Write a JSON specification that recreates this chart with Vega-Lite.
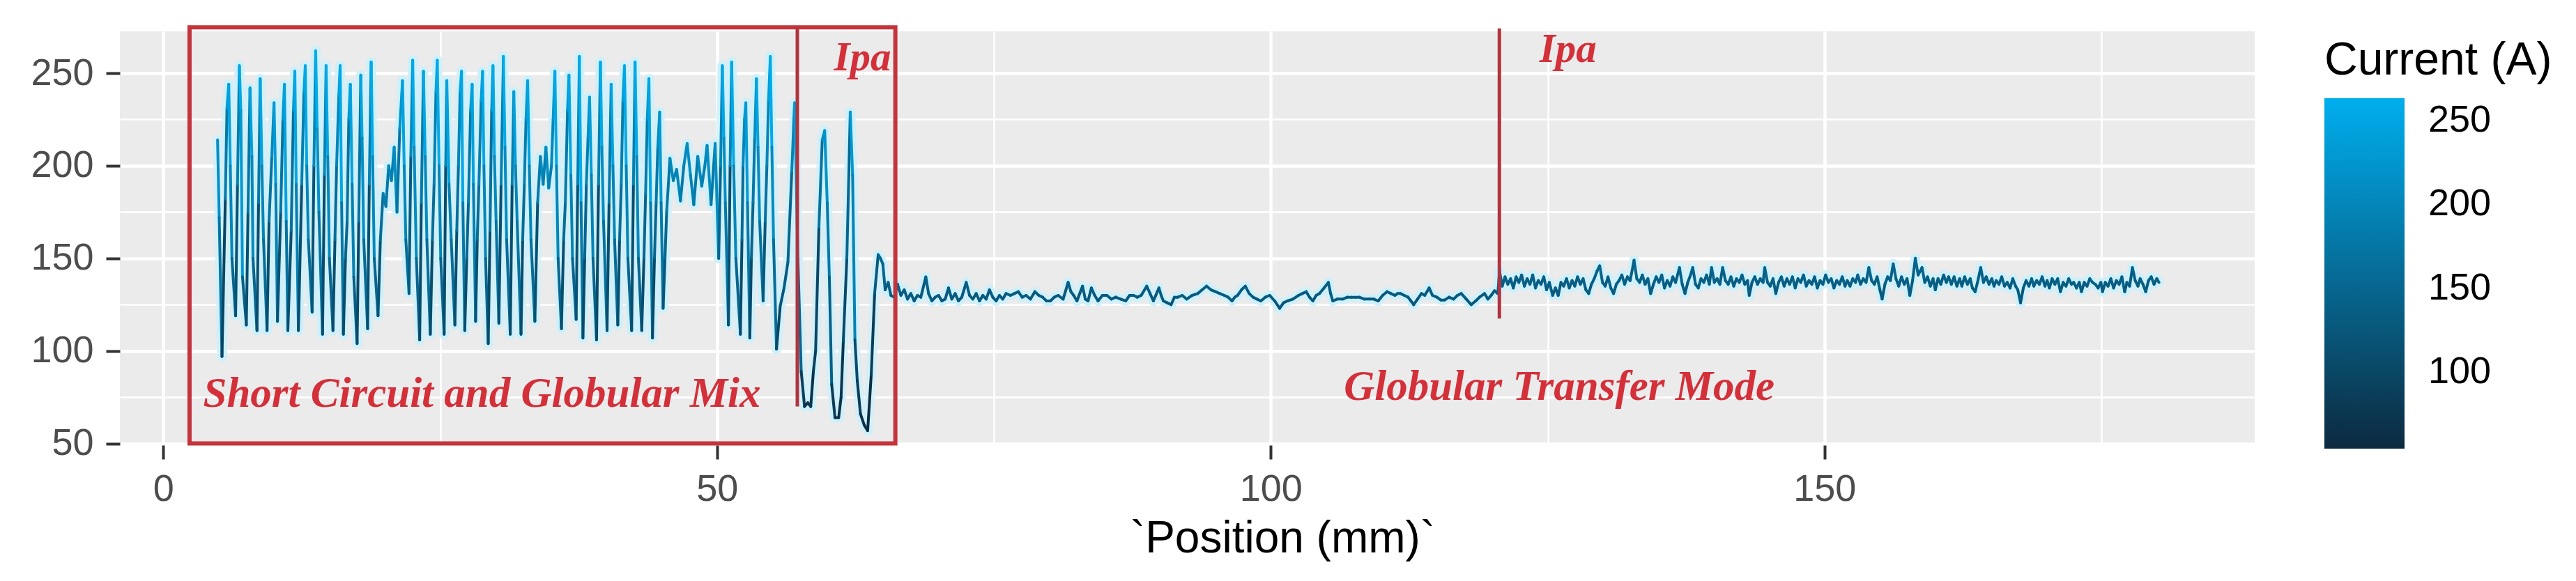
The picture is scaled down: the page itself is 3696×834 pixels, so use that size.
{
  "$schema": "https://vega.github.io/schema/vega-lite/v6.json",
  "autosize": {"type": "none"},
  "width": 3063,
  "height": 594,
  "padding": {"left": 172, "top": 45, "right": 461, "bottom": 195},
  "background": "white",
  "config": {
    "view": {"fill": "#EBEBEB", "stroke": null},
    "axis": {"domain": false, "labelFont": "Liberation Sans", "titleFont": "Liberation Sans"}
  },
  "datasets": {
    "current": [
      {"p":4.9,"c":214},{"p":5.05,"c":172},{"p":5.3,"c":97},{"p":5.6,"c":182},{"p":5.75,"c":231},{"p":5.91,"c":244},{"p":6.05,"c":200},{"p":6.2,"c":150},{"p":6.53,"c":119},{"p":6.7,"c":190},{"p":6.87,"c":254},{"p":7.0,"c":230},{"p":7.15,"c":140},{"p":7.5,"c":114},{"p":7.65,"c":175},{"p":7.83,"c":242},{"p":8.0,"c":205},{"p":8.1,"c":150},{"p":8.46,"c":111},{"p":8.6,"c":180},{"p":8.75,"c":247},{"p":8.9,"c":200},{"p":9.05,"c":160},{"p":9.37,"c":111},{"p":9.55,"c":170},{"p":9.8,"c":205},{"p":10.0,"c":234},{"p":10.15,"c":190},{"p":10.31,"c":116},{"p":10.6,"c":175},{"p":10.8,"c":225},{"p":10.94,"c":244},{"p":11.1,"c":170},{"p":11.25,"c":111},{"p":11.55,"c":165},{"p":11.75,"c":230},{"p":11.88,"c":251},{"p":12.0,"c":190},{"p":12.2,"c":111},{"p":12.5,"c":190},{"p":12.7,"c":240},{"p":12.82,"c":254},{"p":12.95,"c":200},{"p":13.1,"c":160},{"p":13.44,"c":121},{"p":13.6,"c":200},{"p":13.76,"c":262},{"p":13.9,"c":220},{"p":14.05,"c":175},{"p":14.38,"c":109},{"p":14.55,"c":195},{"p":14.7,"c":254},{"p":14.85,"c":205},{"p":15.0,"c":150},{"p":15.32,"c":111},{"p":15.5,"c":160},{"p":15.65,"c":200},{"p":15.85,"c":238},{"p":15.97,"c":254},{"p":16.1,"c":180},{"p":16.26,"c":109},{"p":16.45,"c":150},{"p":16.6,"c":170},{"p":16.75,"c":225},{"p":16.89,"c":244},{"p":17.05,"c":190},{"p":17.2,"c":140},{"p":17.5,"c":104},{"p":17.65,"c":170},{"p":17.83,"c":249},{"p":17.95,"c":215},{"p":18.1,"c":160},{"p":18.45,"c":112},{"p":18.6,"c":190},{"p":18.77,"c":256},{"p":18.9,"c":205},{"p":19.05,"c":150},{"p":19.39,"c":119},{"p":19.6,"c":160},{"p":19.85,"c":185},{"p":20.1,"c":178},{"p":20.35,"c":200},{"p":20.6,"c":192},{"p":20.85,"c":210},{"p":21.1,"c":175},{"p":21.35,"c":220},{"p":21.6,"c":246},{"p":21.75,"c":200},{"p":21.9,"c":160},{"p":22.19,"c":131},{"p":22.35,"c":205},{"p":22.52,"c":257},{"p":22.65,"c":210},{"p":22.85,"c":150},{"p":23.15,"c":106},{"p":23.3,"c":180},{"p":23.49,"c":251},{"p":23.65,"c":205},{"p":23.8,"c":160},{"p":24.11,"c":109},{"p":24.3,"c":160},{"p":24.45,"c":190},{"p":24.62,"c":240},{"p":24.74,"c":257},{"p":24.9,"c":200},{"p":25.05,"c":150},{"p":25.36,"c":109},{"p":25.5,"c":200},{"p":25.6,"c":246},{"p":25.8,"c":190},{"p":26.0,"c":160},{"p":26.33,"c":114},{"p":26.5,"c":165},{"p":26.65,"c":200},{"p":26.8,"c":240},{"p":26.93,"c":251},{"p":27.05,"c":180},{"p":27.22,"c":111},{"p":27.4,"c":150},{"p":27.55,"c":180},{"p":27.75,"c":230},{"p":27.89,"c":244},{"p":28.0,"c":190},{"p":28.2,"c":116},{"p":28.35,"c":160},{"p":28.5,"c":190},{"p":28.7,"c":235},{"p":28.83,"c":251},{"p":28.95,"c":200},{"p":29.1,"c":150},{"p":29.34,"c":104},{"p":29.5,"c":165},{"p":29.65,"c":230},{"p":29.77,"c":254},{"p":29.9,"c":205},{"p":30.05,"c":170},{"p":30.3,"c":115},{"p":30.5,"c":190},{"p":30.71,"c":259},{"p":30.85,"c":210},{"p":31.0,"c":160},{"p":31.33,"c":109},{"p":31.5,"c":190},{"p":31.65,"c":240},{"p":31.8,"c":200},{"p":31.95,"c":170},{"p":32.3,"c":109},{"p":32.45,"c":160},{"p":32.6,"c":190},{"p":32.75,"c":225},{"p":32.9,"c":246},{"p":33.05,"c":200},{"p":33.2,"c":160},{"p":33.55,"c":116},{"p":33.8,"c":180},{"p":34.05,"c":205},{"p":34.3,"c":190},{"p":34.55,"c":210},{"p":34.8,"c":188},{"p":35.05,"c":200},{"p":35.2,"c":225},{"p":35.36,"c":251},{"p":35.5,"c":200},{"p":35.65,"c":150},{"p":35.95,"c":112},{"p":36.15,"c":160},{"p":36.3,"c":180},{"p":36.5,"c":230},{"p":36.63,"c":249},{"p":36.8,"c":195},{"p":36.95,"c":150},{"p":37.28,"c":117},{"p":37.42,"c":190},{"p":37.57,"c":259},{"p":37.72,"c":180},{"p":37.89,"c":107},{"p":38.05,"c":150},{"p":38.2,"c":190},{"p":38.35,"c":215},{"p":38.49,"c":237},{"p":38.65,"c":195},{"p":38.8,"c":150},{"p":39.12,"c":106},{"p":39.3,"c":190},{"p":39.47,"c":256},{"p":39.6,"c":210},{"p":39.75,"c":170},{"p":40.07,"c":111},{"p":40.25,"c":180},{"p":40.44,"c":244},{"p":40.6,"c":200},{"p":40.75,"c":160},{"p":41.04,"c":114},{"p":41.2,"c":160},{"p":41.35,"c":190},{"p":41.5,"c":235},{"p":41.64,"c":254},{"p":41.8,"c":200},{"p":41.95,"c":150},{"p":42.29,"c":111},{"p":42.45,"c":190},{"p":42.6,"c":256},{"p":42.75,"c":205},{"p":42.9,"c":150},{"p":43.2,"c":111},{"p":43.4,"c":150},{"p":43.55,"c":185},{"p":43.7,"c":225},{"p":43.85,"c":247},{"p":44.0,"c":180},{"p":44.17,"c":107},{"p":44.35,"c":150},{"p":44.5,"c":180},{"p":44.65,"c":210},{"p":44.82,"c":229},{"p":44.95,"c":180},{"p":45.13,"c":123},{"p":45.3,"c":150},{"p":45.45,"c":175},{"p":45.75,"c":204},{"p":46.05,"c":192},{"p":46.35,"c":198},{"p":46.7,"c":181},{"p":47.0,"c":200},{"p":47.3,"c":212},{"p":47.6,"c":195},{"p":47.9,"c":179},{"p":48.26,"c":205},{"p":48.62,"c":189},{"p":48.9,"c":200},{"p":49.1,"c":211},{"p":49.46,"c":179},{"p":49.83,"c":212},{"p":50.15,"c":150},{"p":50.32,"c":200},{"p":50.48,"c":254},{"p":50.62,"c":215},{"p":50.75,"c":180},{"p":51.03,"c":114},{"p":51.18,"c":200},{"p":51.32,"c":256},{"p":51.5,"c":200},{"p":51.7,"c":150},{"p":52.11,"c":109},{"p":52.25,"c":160},{"p":52.35,"c":200},{"p":52.48,"c":225},{"p":52.6,"c":234},{"p":52.75,"c":180},{"p":52.96,"c":107},{"p":53.1,"c":150},{"p":53.25,"c":180},{"p":53.4,"c":215},{"p":53.56,"c":247},{"p":53.7,"c":210},{"p":53.85,"c":170},{"p":54.16,"c":127},{"p":54.35,"c":170},{"p":54.5,"c":200},{"p":54.65,"c":235},{"p":54.81,"c":259},{"p":54.95,"c":210},{"p":55.1,"c":160},{"p":55.37,"c":101},{"p":55.7,"c":124},{"p":56.05,"c":134},{"p":56.4,"c":148},{"p":56.75,"c":197},{"p":57.0,"c":234},
      {"p":57.3,"c":150},{"p":57.6,"c":89},{"p":57.9,"c":70},{"p":58.2,"c":72},{"p":58.46,"c":70},{"p":58.7,"c":89},{"p":58.9,"c":100},{"p":59.2,"c":167},{"p":59.5,"c":214},{"p":59.72,"c":219},{"p":59.95,"c":180},{"p":60.14,"c":140},{"p":60.35,"c":82},{"p":60.65,"c":64},{"p":60.98,"c":64},{"p":61.2,"c":75},{"p":61.4,"c":105},{"p":61.72,"c":150},{"p":62.03,"c":229},{"p":62.24,"c":195},{"p":62.45,"c":106},{"p":62.66,"c":84},{"p":62.95,"c":66},{"p":63.29,"c":60},{"p":63.6,"c":57},{"p":63.92,"c":87},{"p":64.23,"c":131},{"p":64.55,"c":152},{"p":64.75,"c":150},{"p":64.97,"c":147},{"p":65.18,"c":133},{"p":65.45,"c":137},{"p":65.7,"c":130},{"p":66.0,"c":129},{"p":66.3,"c":136},
      {"p":66.6,"c":130},{"p":66.9,"c":133},{"p":67.2,"c":128},{"p":67.5,"c":131},{"p":67.8,"c":127},{"p":68.1,"c":130},{"p":68.4,"c":129},{"p":68.85,"c":140},{"p":69.1,"c":131},{"p":69.4,"c":127},{"p":69.7,"c":129},{"p":70.0,"c":130},{"p":70.3,"c":127},{"p":70.6,"c":128},{"p":70.9,"c":134},{"p":71.2,"c":128},{"p":71.5,"c":131},{"p":71.8,"c":127},{"p":72.1,"c":129},{"p":72.5,"c":137},{"p":72.8,"c":130},{"p":73.1,"c":128},{"p":73.4,"c":131},{"p":73.7,"c":127},{"p":74.0,"c":130},{"p":74.3,"c":128},{"p":74.6,"c":133},{"p":74.9,"c":129},{"p":75.2,"c":127},{"p":75.5,"c":130},{"p":75.8,"c":128},{"p":76.1,"c":131},{"p":76.5,"c":130},{"p":76.85,"c":131},{"p":77.2,"c":132},{"p":77.55,"c":129},{"p":77.9,"c":130},{"p":78.3,"c":128},{"p":78.7,"c":132},{"p":79.05,"c":130},{"p":79.4,"c":129},{"p":79.75,"c":127},{"p":80.1,"c":127},{"p":80.45,"c":129},{"p":80.8,"c":130},{"p":81.25,"c":128},{"p":81.7,"c":137},{"p":81.95,"c":132},{"p":82.2,"c":130},{"p":82.5,"c":127},{"p":83.0,"c":135},{"p":83.25,"c":128},{"p":83.5,"c":127},{"p":83.8,"c":134},{"p":84.1,"c":130},{"p":84.4,"c":127},{"p":84.8,"c":130},{"p":85.2,"c":130},{"p":85.6,"c":128},{"p":86.0,"c":129},{"p":86.45,"c":128},{"p":86.9,"c":127},{"p":87.25,"c":130},{"p":87.6,"c":130},{"p":87.95,"c":129},{"p":88.3,"c":130},{"p":88.8,"c":135},{"p":89.1,"c":131},{"p":89.4,"c":127},{"p":89.9,"c":134},{"p":90.1,"c":130},{"p":90.3,"c":127},{"p":90.65,"c":126},{"p":91.0,"c":125},{"p":91.3,"c":129},{"p":91.6,"c":129},{"p":92.0,"c":130},{"p":92.4,"c":128},{"p":92.9,"c":130},{"p":93.4,"c":131},{"p":93.8,"c":133},{"p":94.2,"c":135},{"p":94.6,"c":133},{"p":95.0,"c":132},{"p":95.4,"c":131},{"p":95.8,"c":130},{"p":96.15,"c":129},{"p":96.5,"c":127},{"p":96.75,"c":129},{"p":97.0,"c":130},{"p":97.35,"c":133},{"p":97.7,"c":135},{"p":98.05,"c":131},{"p":98.4,"c":129},{"p":98.75,"c":128},{"p":99.1,"c":127},{"p":99.5,"c":129},{"p":99.9,"c":130},{"p":100.35,"c":127},{"p":100.8,"c":123},{"p":101.15,"c":126},{"p":101.5,"c":127},{"p":102.0,"c":128},{"p":102.5,"c":130},{"p":102.85,"c":131},{"p":103.2,"c":132},{"p":103.5,"c":129},{"p":103.8,"c":127},{"p":104.1,"c":130},{"p":104.4,"c":131},{"p":104.8,"c":134},{"p":105.2,"c":137},{"p":105.4,"c":131},{"p":105.6,"c":127},{"p":106.0,"c":128},{"p":106.5,"c":128},{"p":106.9,"c":129},{"p":107.3,"c":129},{"p":107.65,"c":129},{"p":108.0,"c":129},{"p":108.45,"c":128},{"p":108.9,"c":128},{"p":109.3,"c":128},{"p":109.7,"c":127},{"p":110.1,"c":130},{"p":110.5,"c":132},{"p":110.85,"c":131},{"p":111.2,"c":130},{"p":111.45,"c":131},{"p":111.7,"c":131},{"p":112.05,"c":130},{"p":112.4,"c":129},{"p":112.65,"c":127},{"p":112.9,"c":125},{"p":113.25,"c":128},{"p":113.6,"c":131},{"p":113.9,"c":130},{"p":114.3,"c":134},{"p":114.6,"c":130},{"p":115.0,"c":129},{"p":115.35,"c":127.5},{"p":115.7,"c":127.5},{"p":116.1,"c":129},{"p":116.5,"c":128},{"p":116.85,"c":130},{"p":117.2,"c":131},{"p":117.65,"c":128},{"p":118.1,"c":125},{"p":118.5,"c":127},{"p":118.85,"c":129},{"p":119.3,"c":131},{"p":119.6,"c":128},{"p":119.9,"c":130},{"p":120.2,"c":132.5},{"p":120.5,"c":131},
      {"p":120.65,"c":143},{"p":120.9,"c":135},{"p":121.15,"c":140},{"p":121.4,"c":136},{"p":121.65,"c":139},{"p":121.9,"c":134},{"p":122.15,"c":140},{"p":122.4,"c":137},{"p":122.65,"c":141},{"p":122.9,"c":135},{"p":123.15,"c":139},{"p":123.4,"c":136},{"p":123.65,"c":141},{"p":123.9,"c":134},{"p":124.15,"c":138},{"p":124.4,"c":136},{"p":124.65,"c":140},{"p":124.9,"c":133},{"p":125.15,"c":137},{"p":125.45,"c":130},{"p":125.7,"c":134},{"p":125.95,"c":130},{"p":126.2,"c":137},{"p":126.45,"c":135},{"p":126.7,"c":139},{"p":126.95,"c":134},{"p":127.2,"c":138},{"p":127.45,"c":135},{"p":127.7,"c":140},{"p":127.95,"c":136},{"p":128.2,"c":139},{"p":128.45,"c":133},{"p":128.7,"c":131},{"p":128.95,"c":136},{"p":129.2,"c":139},{"p":129.45,"c":143},{"p":129.7,"c":146},{"p":129.95,"c":137},{"p":130.2,"c":135},{"p":130.45,"c":140},{"p":130.7,"c":134},{"p":130.95,"c":131},{"p":131.2,"c":136},{"p":131.45,"c":138},{"p":131.7,"c":141},{"p":131.95,"c":136},{"p":132.2,"c":140},{"p":132.45,"c":138},{"p":132.8,"c":149},{"p":133.05,"c":139},{"p":133.3,"c":137},{"p":133.55,"c":141},{"p":133.8,"c":136},{"p":134.05,"c":139},{"p":134.3,"c":131},{"p":134.55,"c":136},{"p":134.8,"c":140},{"p":135.05,"c":137},{"p":135.3,"c":141},{"p":135.55,"c":134},{"p":135.8,"c":138},{"p":136.05,"c":135},{"p":136.3,"c":140},{"p":136.55,"c":137},{"p":136.9,"c":145},{"p":137.15,"c":136},{"p":137.4,"c":131},{"p":137.65,"c":137},{"p":137.9,"c":141},{"p":138.1,"c":145},{"p":138.35,"c":136},{"p":138.6,"c":134},{"p":138.85,"c":139},{"p":139.1,"c":137},{"p":139.35,"c":141},{"p":139.6,"c":136},{"p":139.8,"c":145},{"p":140.05,"c":137},{"p":140.3,"c":139},{"p":140.55,"c":136},{"p":140.8,"c":145},{"p":141.05,"c":138},{"p":141.3,"c":136},{"p":141.55,"c":140},{"p":141.8,"c":135},{"p":142.05,"c":139},{"p":142.3,"c":137},{"p":142.55,"c":141},{"p":142.8,"c":136},{"p":143.05,"c":138},{"p":143.2,"c":130},{"p":143.45,"c":137},{"p":143.7,"c":140},{"p":143.95,"c":136},{"p":144.2,"c":139},{"p":144.45,"c":137},{"p":144.6,"c":145},{"p":144.85,"c":137},{"p":145.1,"c":135},{"p":145.35,"c":139},{"p":145.6,"c":131},{"p":145.85,"c":137},{"p":146.1,"c":140},{"p":146.35,"c":135},{"p":146.6,"c":139},{"p":146.85,"c":136},{"p":147.1,"c":140},{"p":147.35,"c":134},{"p":147.6,"c":139},{"p":147.85,"c":137},{"p":148.1,"c":141},{"p":148.35,"c":135},{"p":148.6,"c":138},{"p":148.85,"c":136},{"p":149.1,"c":140},{"p":149.35,"c":134},{"p":149.6,"c":138},{"p":149.85,"c":136},{"p":150.1,"c":141},{"p":150.35,"c":137},{"p":150.6,"c":139},{"p":150.85,"c":134},{"p":151.1,"c":138},{"p":151.35,"c":136},{"p":151.6,"c":140},{"p":151.85,"c":135},{"p":152.05,"c":138},{"p":152.3,"c":135},{"p":152.55,"c":139},{"p":152.8,"c":137},{"p":153.0,"c":141},{"p":153.25,"c":136},{"p":153.5,"c":139},{"p":153.75,"c":137},{"p":154.0,"c":145},{"p":154.25,"c":138},{"p":154.5,"c":136},{"p":154.75,"c":140},{"p":155.0,"c":133},{"p":155.2,"c":128},{"p":155.45,"c":136},{"p":155.7,"c":140},{"p":155.95,"c":138},{"p":156.2,"c":147},{"p":156.45,"c":139},{"p":156.7,"c":135},{"p":156.95,"c":140},{"p":157.2,"c":136},{"p":157.45,"c":139},{"p":157.7,"c":130},{"p":157.95,"c":138},{"p":158.2,"c":150},{"p":158.45,"c":141},{"p":158.8,"c":145},{"p":159.05,"c":137},{"p":159.3,"c":140},{"p":159.55,"c":135},{"p":159.8,"c":139},{"p":160.0,"c":133},{"p":160.25,"c":139},{"p":160.5,"c":136},{"p":160.75,"c":141},{"p":161.0,"c":137},{"p":161.2,"c":140},{"p":161.45,"c":136},{"p":161.7,"c":140},{"p":161.95,"c":135},{"p":162.2,"c":139},{"p":162.4,"c":135},{"p":162.65,"c":140},{"p":162.9,"c":136},{"p":163.15,"c":139},{"p":163.35,"c":134},{"p":163.6,"c":132},{"p":163.85,"c":138},{"p":164.1,"c":145},{"p":164.35,"c":137},{"p":164.6,"c":140},{"p":164.85,"c":136},{"p":165.1,"c":139},{"p":165.3,"c":135},{"p":165.5,"c":138},{"p":165.75,"c":136},{"p":166.0,"c":140},{"p":166.25,"c":135},{"p":166.5,"c":137},{"p":166.75,"c":134},{"p":167.0,"c":139},{"p":167.25,"c":135},{"p":167.45,"c":133},{"p":167.7,"c":126},{"p":167.95,"c":134},{"p":168.2,"c":138},{"p":168.45,"c":135},{"p":168.7,"c":139},{"p":168.9,"c":135},{"p":169.15,"c":138},{"p":169.4,"c":136},{"p":169.65,"c":140},{"p":169.9,"c":135},{"p":170.1,"c":138},{"p":170.3,"c":134},{"p":170.55,"c":139},{"p":170.8,"c":136},{"p":171.05,"c":139},{"p":171.3,"c":132},{"p":171.55,"c":137},{"p":171.8,"c":135},{"p":172.05,"c":139},{"p":172.3,"c":136},{"p":172.5,"c":137},{"p":172.75,"c":134},{"p":173.0,"c":137},{"p":173.2,"c":132},{"p":173.45,"c":137},{"p":173.7,"c":135},{"p":173.95,"c":139},{"p":174.2,"c":137},{"p":174.45,"c":136},{"p":174.7,"c":134},{"p":174.95,"c":137},{"p":175.1,"c":132},{"p":175.35,"c":137},{"p":175.6,"c":135},{"p":175.85,"c":139},{"p":176.1,"c":134},{"p":176.35,"c":138},{"p":176.6,"c":136},{"p":176.85,"c":140},{"p":177.1,"c":132},{"p":177.3,"c":137},{"p":177.55,"c":135},{"p":177.8,"c":145},{"p":178.05,"c":138},{"p":178.3,"c":135},{"p":178.5,"c":139},{"p":178.75,"c":136},{"p":179.0,"c":132},{"p":179.25,"c":138},{"p":179.5,"c":140},{"p":179.75,"c":136},{"p":180.0,"c":139},{"p":180.2,"c":137}
    ],
    "boxes": [{"x1": 2.37, "x2": 66.1, "y1": 50.1, "y2": 274.7}],
    "marks": [{"x": 57.25, "y1": 70, "y2": 274.7}, {"x": 120.64, "y1": 117.5, "y2": 274.2}],
    "labels": [
      {"t": "Short Circuit and Globular Mix", "x": 3.6, "y": 70, "s": 61},
      {"t": "Ipa", "x": 60.55, "y": 251.5, "s": 59},
      {"t": "Ipa", "x": 124.26, "y": 256, "s": 59},
      {"t": "Globular Transfer Mode", "x": 106.6, "y": 73.4, "s": 61}
    ]
  },
  "layer": [
    {
      "data": {"name": "current"},
      "transform": [
        {"window": [{"op": "lead", "field": "p", "as": "p2"}, {"op": "lead", "field": "c", "as": "c2"}], "sort": [{"field": "p", "order": "ascending"}]},
        {"filter": "isValid(datum.p2)"}
      ],
      "layer": [
        {
          "mark": {"type": "rule", "strokeWidth": 14, "strokeCap": "round", "color": "#CDF0FB", "opacity": 0.8},
          "encoding": {
            "x": {"field": "p", "type": "quantitative", "scale": {"domain": [-3.92, 188.84], "nice": false, "zero": false},
              "axis": {"values": [0,25,50,75,100,125,150,175], "labelExpr": "datum.value % 50 === 0 ? datum.label : ''", "labelOverlap": false, "labelFlush": false,
                "grid": true, "gridColor": "#FFFFFF", "gridWidth": {"condition": {"test": "datum.value % 50 === 0", "value": 4.5}, "value": 2.5},
                "ticks": true, "tickColor": "#333333", "tickSize": 20, "tickWidth": 4, "tickOpacity": {"condition": {"test": "datum.value % 50 === 0", "value": 1}, "value": 0},
                "labelFontSize": 54, "labelColor": "#4D4D4D", "labelPadding": 16,
                "title": "`Position (mm)`", "titleFontSize": 64, "titleFontWeight": "normal", "titleColor": "#000000", "titleX": 1668, "titleY": 153, "titleBaseline": "alphabetic", "titleAnchor": "middle", "titleAlign": "center"}},
            "x2": {"field": "p2"},
            "y": {"field": "c", "type": "quantitative", "scale": {"domain": [49.13, 272.57], "nice": false, "zero": false},
              "axis": {"values": [50,75,100,125,150,175,200,225,250], "labelExpr": "datum.value % 50 === 0 ? datum.label : ''", "labelOverlap": false, "labelFlush": false,
                "grid": true, "gridColor": "#FFFFFF", "gridWidth": {"condition": {"test": "datum.value % 50 === 0", "value": 4.5}, "value": 2.5},
                "ticks": true, "tickColor": "#333333", "tickSize": 20, "tickWidth": 4, "tickOpacity": {"condition": {"test": "datum.value % 50 === 0", "value": 1}, "value": 0},
                "labelFontSize": 54, "labelColor": "#4D4D4D", "labelPadding": 18, "title": null}},
            "y2": {"field": "c2"}
          }
        },
        {
          "mark": {"type": "rule", "strokeWidth": 4, "strokeCap": "round"},
          "encoding": {
            "x": {"field": "p", "type": "quantitative", "scale": {"domain": [-3.92, 188.84], "nice": false, "zero": false}},
            "x2": {"field": "p2"},
            "y": {"field": "c", "type": "quantitative", "scale": {"domain": [49.13, 272.57], "nice": false, "zero": false}},
            "y2": {"field": "c2"},
            "color": {"field": "c", "type": "quantitative",
              "scale": {"type": "linear", "domain": [54, 263.5], "range": ["#0C2A3F", "#00AEEE"], "interpolate": "rgb", "zero": false, "nice": false},
              "legend": {"orient": "none", "legendX": 3163, "legendY": 10, "padding": 0, "direction": "vertical", "title": "Current (A)",
                "titleFont": "Liberation Sans", "titleFontSize": 66, "titleFontWeight": "normal", "titleColor": "#000000", "titlePadding": 20, "titleLimit": 2000,
                "gradientLength": 503, "gradientThickness": 115, "gradientStrokeWidth": 0,
                "values": [100, 150, 200, 250], "labelFont": "Liberation Sans", "labelFontSize": 54, "labelColor": "#000000", "labelOffset": 34, "labelLimit": 500}}
          }
        }
      ]
    },
    {
      "data": {"name": "boxes"},
      "mark": {"type": "rect", "filled": false, "stroke": "#C4343C", "strokeWidth": 6},
      "encoding": {
        "x": {"field": "x1", "type": "quantitative", "scale": {"domain": [-3.92, 188.84], "nice": false, "zero": false}},
        "x2": {"field": "x2"},
        "y": {"field": "y1", "type": "quantitative", "scale": {"domain": [49.13, 272.57], "nice": false, "zero": false}},
        "y2": {"field": "y2"}
      }
    },
    {
      "data": {"name": "marks"},
      "mark": {"type": "rule", "stroke": "#B0343F", "strokeWidth": 5},
      "encoding": {
        "x": {"field": "x", "type": "quantitative", "scale": {"domain": [-3.92, 188.84], "nice": false, "zero": false}},
        "y": {"field": "y1", "type": "quantitative", "scale": {"domain": [49.13, 272.57], "nice": false, "zero": false}},
        "y2": {"field": "y2"}
      }
    },
    {
      "data": {"name": "labels"},
      "mark": {"type": "text", "align": "left", "baseline": "alphabetic", "font": "Liberation Serif", "fontStyle": "italic", "fontWeight": "bold", "fill": "#D3303A"},
      "encoding": {
        "x": {"field": "x", "type": "quantitative", "scale": {"domain": [-3.92, 188.84], "nice": false, "zero": false}},
        "y": {"field": "y", "type": "quantitative", "scale": {"domain": [49.13, 272.57], "nice": false, "zero": false}},
        "text": {"field": "t"},
        "size": {"field": "s", "type": "quantitative", "scale": null, "legend": null}
      }
    }
  ]
}
